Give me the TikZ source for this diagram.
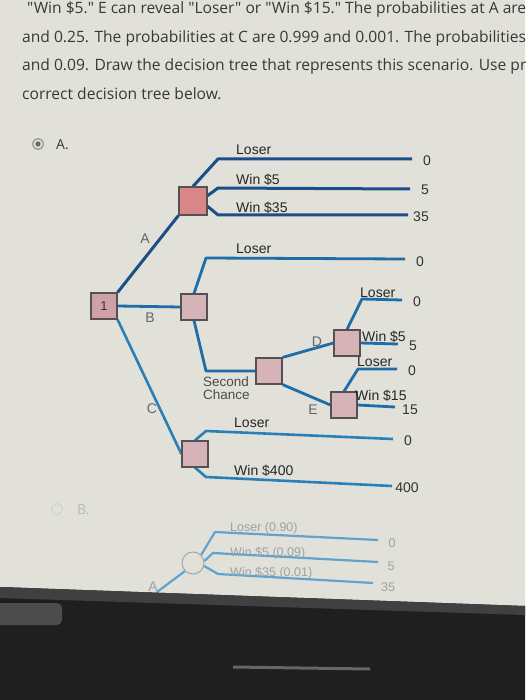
\documentclass[tikz,border=0pt]{standalone}
\usepackage{fontspec}
\setmainfont{Liberation Sans}
\newfontfamily\uifont{Open Sans}
\pgfdeclarelayer{bgl}
\pgfdeclarelayer{lines}
\pgfsetlayers{bgl,lines,main}
\definecolor{paper}{HTML}{E1E0D9}
\definecolor{txt}{HTML}{383838}
\definecolor{navy}{HTML}{1C4E8A}
\definecolor{blu}{HTML}{1F6DA8}
\definecolor{cyanb}{HTML}{2A80B6}
\definecolor{pinkA}{HTML}{D88686}
\definecolor{pinkB}{HTML}{D6B3B7}
\definecolor{pink1}{HTML}{CFA0A5}
\definecolor{sqline}{HTML}{555055}
\definecolor{faint}{HTML}{9CA2A6}
\definecolor{faintline}{HTML}{5FA3CF}
\tikzset{
  sq/.style={draw=sqline,line width=1.2pt,fill=pinkB,minimum size=26pt,inner sep=0pt,text=txt,font=\fontsize{13}{13}\selectfont},
  br/.style={line width=2.8pt,draw=blu,line join=round},
  brA/.style={line width=3pt,draw=navy,line join=round},
  brC/.style={line width=2.6pt,draw=cyanb,line join=round},
  lab/.style={anchor=base west,inner sep=0pt,font=\fontsize{14}{14}\selectfont,text=black!85},
  val/.style={anchor=base,inner sep=0pt,font=\fontsize{14}{14}\selectfont,text=black!80},
  elab/.style={inner sep=0pt,font=\fontsize{14}{14}\selectfont,text=black!60},
  sclab/.style={anchor=base west,inner sep=0pt,font=\fontsize{13.5}{13.5}\selectfont,text=black!70},
  topline/.style={anchor=base west,inner sep=0pt,font=\uifont\fontsize{15.6}{17}\selectfont,text=txt},
  flab/.style={anchor=base west,inner sep=0pt,font=\fontsize{12.5}{13}\selectfont,text=faint},
  fval/.style={anchor=base,inner sep=0pt,font=\fontsize{12.5}{13}\selectfont,text=faint},
  fbr/.style={line width=2.2pt,draw=faintline,line join=round}
}
\begin{document}
\begin{tikzpicture}[x=1pt,y=-1pt]
\useasboundingbox (0,0) rectangle (525,700);
\clip (0,0) rectangle (525,700);
\begin{pgfonlayer}{bgl}
\fill[paper] (0,0) rectangle (525,700);
\end{pgfonlayer}
% question text
\node[topline] (t1) at (27,14) {"Win \$5." E can reveal "Loser" or "Win \$15." The probabilities at A are};
\node[topline] (t2) at (22,43) {and 0.25. The probabilities at C are 0.999 and 0.001. The probabilities};
\node[topline] (t3) at (22,71) {and 0.09. Draw the decision tree that represents this scenario. Use pr};
\node[topline] (t4) at (22,100) {correct decision tree below.};
% option A radio
\node[circle,draw=black!45,line width=1pt,fill=black!15,minimum size=11pt,inner sep=0pt] (rA) at (38,144) {};
\node[circle,fill=black!60,minimum size=5pt,inner sep=0pt] (rAc) at (38,144) {};
\node[anchor=west,inner sep=0pt,font=\uifont\fontsize{14}{14}\selectfont,text=txt] (oA) at (56,145) {A.};
% decision nodes
\node[sq,fill=pink1] (n1) at (104,306) {1};
\node[sq,fill=pinkA,minimum size=28pt] (nA) at (193,201) {};
\node[sq] (nB) at (194,307) {};
\node[sq] (nS) at (269,371) {};
\node[sq] (nD) at (347,343) {};
\node[sq] (nE) at (344,405) {};
\node[sq] (nC) at (195,454) {};
% end points
\coordinate (aLb) at (218,159); \coordinate (aLe) at (412,159);
\coordinate (a5b) at (218,188); \coordinate (a5e) at (410,189);
\coordinate (a35b) at (218,215); \coordinate (a35e) at (408,215);
\coordinate (bLb) at (206,258); \coordinate (bLe) at (405,259);
\coordinate (bSb) at (206,371);
\coordinate (dLb) at (362,299); \coordinate (dLe) at (402,300);
\coordinate (d5e) at (398,344);
\coordinate (eLb) at (358,369); \coordinate (eLe) at (397,369);
\coordinate (e15e) at (395,407);
\coordinate (cLb) at (206,431); \coordinate (cLe) at (393,439);
\coordinate (cWb) at (206,477); \coordinate (cWe) at (392,486);
\begin{pgfonlayer}{lines}
\draw[brA] (n1.north east) -- (nA.south west);
\draw[brA] (nA.north) -- (aLb) -- (aLe);
\draw[brA] (nA.20) -- (a5b) -- (a5e);
\draw[brA] (nA.-20) -- (a35b) -- (a35e);
\draw[br] (n1.east) -- (nB.west);
\draw[br] (nB.north) -- (bLb) -- (bLe);
\draw[br] (nB.south) -- (bSb) -- (nS.west);
\draw[br] (nS.north east) -- (nD.west);
\draw[br] (nS.south east) -- (nE.west);
\draw[br] (nD.north) -- (dLb) -- (dLe);
\draw[br] (nD.east) -- (d5e);
\draw[br] (nE.north) -- (eLb) -- (eLe);
\draw[br] (nE.east) -- (e15e);
\draw[brC] (n1.south east) -- (nC.west);
\draw[brC] (nC.north) -- (cLb) -- (cLe);
\draw[brC] (nC.south) -- (cWb) -- (cWe);
\end{pgfonlayer}
% labels
\node[lab] (lA1) at (236,155) {Loser};
\node[lab] (lA2) at (236,185) {Win \$5};
\node[lab] (lA3) at (236,213) {Win \$35};
\node[val] (vA1) at (427,166) {0};
\node[val] (vA2) at (425,195) {5};
\node[val] (vA3) at (421,222) {35};
\node[lab] (lB1) at (236,254) {Loser};
\node[val] (vB1) at (420,266) {0};
\node[lab] (lD1) at (360,297) {Loser};
\node[val] (vD1) at (417,306) {0};
\node[lab] (lD2) at (362,341) {Win \$5};
\node[val] (vD2) at (413,350) {5};
\node[lab] (lE1) at (357,366) {Loser};
\node[val] (vE1) at (412,375) {0};
\node[lab] (lE2) at (355,400) {Win \$15};
\node[val] (vE2) at (410,414) {15};
\node[lab] (lC1) at (234,427) {Loser};
\node[val] (vC1) at (408,445) {0};
\node[lab] (lC2) at (234,475) {Win \$400};
\node[val] (vC2) at (407,492) {400};
\node[sclab] (sc1) at (203,386) {Second};
\node[sclab] (sc2) at (203,399) {Chance};
\node[elab] (eA) at (145,239) {A};
\node[elab] (eB) at (150,318) {B};
\node[elab] (eC) at (152,409) {C};
\node[elab] (eD) at (317,342) {D};
\node[elab] (eE) at (313,410) {E};
% option B (faded)
\node[circle,draw=black!18,line width=1pt,minimum size=11pt,inner sep=0pt] (rB) at (57,509) {};
\node[anchor=west,inner sep=0pt,font=\uifont\fontsize{14}{14}\selectfont,text=black!28] (oB) at (77,510) {B.};
\node[circle,draw=black!35,line width=1pt,fill=paper,minimum size=22pt,inner sep=0pt] (ch) at (193,563) {};
\coordinate (fA) at (157,592);
\coordinate (fLb) at (215,532); \coordinate (fLe) at (378,540);
\coordinate (f5b) at (213,553); \coordinate (f5e) at (378,562);
\coordinate (f35b) at (218,574); \coordinate (f35e) at (373,583);
\begin{pgfonlayer}{lines}
\draw[fbr] (fA) -- (ch.south west);
\draw[fbr] (ch.north east) -- (fLb) -- (fLe);
\draw[fbr] (ch.10) -- (f5b) -- (f5e);
\draw[fbr] (ch.-15) -- (f35b) -- (f35e);
\end{pgfonlayer}
\node[flab] (fl1) at (230,531) {Loser (0.90)};
\node[flab] (fl2) at (230,556) {Win \$5 (0.09)};
\node[flab] (fl3) at (230,576) {Win \$35 (0.01)};
\node[fval] (fv1) at (392,547) {0};
\node[fval] (fv2) at (391,570) {5};
\node[fval] (fv3) at (388,591) {35};
\node[elab,text=faint] (fa) at (153,587) {A};
% laptop bezel
\fill[black!88] (0,587) -- (525,606) -- (525,700) -- (0,700) -- cycle;
\fill[black!75] (0,587) -- (525,606) -- (525,615) -- (0,598) -- cycle;
\fill[black!70,rounded corners=5pt] (-10,603) rectangle (62,625);
\draw[black!60,line width=3pt] (233,667) -- (370,669);
\end{tikzpicture}
\end{document}
